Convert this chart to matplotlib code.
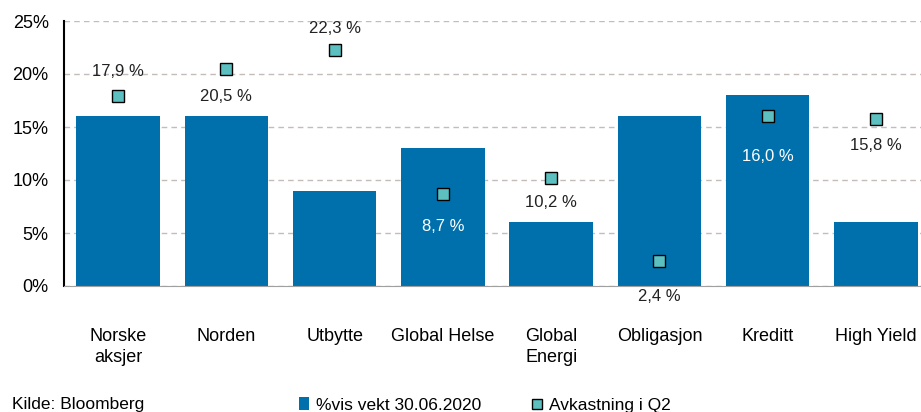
import matplotlib.pyplot as plt
from matplotlib.lines import Line2D
from matplotlib.patches import Patch

categories = ['Norske\naksjer', 'Norden', 'Utbytte', 'Global Helse', 'Global\nEnergi',
              'Obligasjon', 'Kreditt', 'High Yield']
vekt = [16, 16, 9, 13, 6, 16, 18, 6]
avkastning = [17.9, 20.5, 22.3, 8.7, 10.2, 2.4, 16.0, 15.8]

# label offset from marker (pixels, + is above) and label colour
label_dy = [25, -28, 21, -33, -25, -36, -40, -27]
label_col = ['#222222', '#222222', '#222222', 'white', '#222222', '#222222', 'white', '#222222']

bar_color = '#0070AD'
marker_color = '#5CC0C0'

plt.rcParams['font.family'] = ['Liberation Sans', 'DejaVu Sans']

fig = plt.figure(figsize=(9.21, 4.12), dpi=100)
ax = fig.add_axes([64 / 921, 1 - 286 / 412, 866 / 921, 265 / 412])

x = range(len(categories))
ax.bar(x, vekt, width=0.77, color=bar_color, zorder=2)
ax.plot(x, avkastning, linestyle='none', marker='s', markersize=8,
        markerfacecolor=marker_color, markeredgecolor='black', markeredgewidth=1.0, zorder=3)

for i, v in enumerate(avkastning):
    txt = f'{v:.1f} %'.replace('.', ',')
    ax.annotate(txt, (i, v), xytext=(0, label_dy[i]), textcoords='offset pixels',
                ha='center', va='center', fontsize=12, color=label_col[i], zorder=4)

ax.set_xlim(-0.5, 7.5)
ax.set_ylim(0, 25)
ax.set_yticks([0, 5, 10, 15, 20, 25])
ax.set_yticklabels([f'{t}%' for t in [0, 5, 10, 15, 20, 25]], fontsize=13)
ax.set_xticks(list(x))
ax.set_xticklabels(categories, va='top', fontsize=13, linespacing=1.3)
ax.tick_params(axis='x', length=0, pad=30)
ax.tick_params(axis='y', length=0, pad=11)
ax.yaxis.grid(True, color='#C4BCB8', linestyle=(0, (4, 3)), linewidth=1, zorder=0)
for s in ['top', 'right']:
    ax.spines[s].set_visible(False)
ax.spines['left'].set_color('black')
ax.spines['left'].set_linewidth(1.5)
ax.spines['bottom'].set_color('#A0A0A0')

fig.text(12 / 921, 1 - 405 / 412, 'Kilde: Bloomberg', fontsize=12.5, va='center', ha='left')
handles = [Patch(facecolor=bar_color, label='%vis vekt 30.06.2020'),
           Line2D([], [], linestyle='none', marker='s', markersize=7,
                  markerfacecolor=marker_color, markeredgecolor='black',
                  label='Avkastning i Q2')]
fig.legend(handles=handles, loc='center left', bbox_to_anchor=(299 / 921, 1 - 405 / 412),
           ncol=2, frameon=False, fontsize=12.5, handlelength=0.6, handletextpad=0.4,
           columnspacing=2.9, borderpad=0, borderaxespad=0)

fig.savefig('out.png', dpi=100)
